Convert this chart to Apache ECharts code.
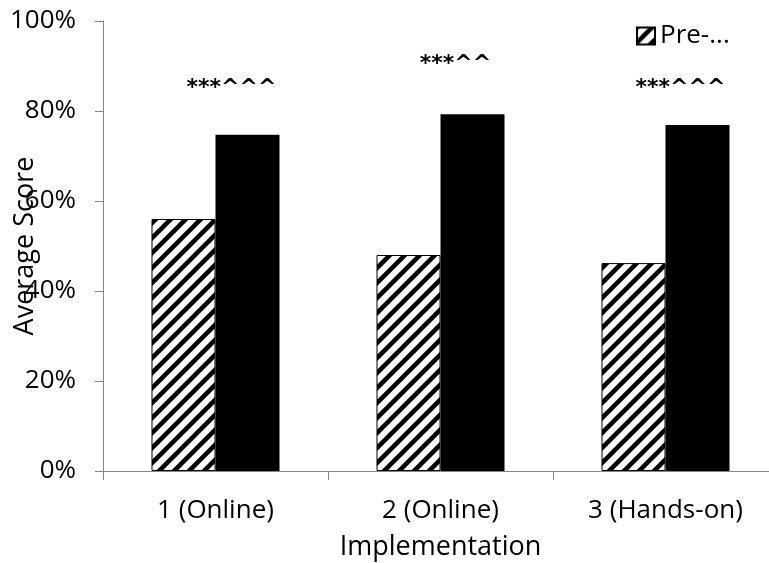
<!DOCTYPE html>
<html>
<head>
<meta charset="utf-8">
<script src="https://cdn.jsdelivr.net/npm/echarts@6/dist/echarts.min.js"></script>
<style>
html,body{margin:0;padding:0;background:#fff;}
#chart{width:769px;height:563px;}
</style>
</head>
<body>
<div id="chart"></div>
<script>
const categories = ['1 (Online)', '2 (Online)', '3 (Hands-on)'];
const preValues = [0.56, 0.48, 0.462];
const postValues = [0.747, 0.793, 0.769];
const sigLabels = ['***^^^', '***^^', '***^^^'];
const yTicks = [0, 0.2, 0.4, 0.6, 0.8, 1.0];
const seriesNames = ['Pre-test', 'Post-test'];
const legendText = 'Pre-...';

// hatch pattern
const pat = document.createElement('canvas');
pat.width = 15; pat.height = 15;
const ctx = pat.getContext('2d');
ctx.fillStyle = '#fff';
ctx.fillRect(0, 0, 15, 15);
ctx.strokeStyle = '#000';
ctx.lineWidth = 4.5;
ctx.beginPath();
ctx.moveTo(-2, 2); ctx.lineTo(2, -2);
ctx.moveTo(0, 15); ctx.lineTo(15, 0);
ctx.moveTo(13, 17); ctx.lineTo(17, 13);
ctx.stroke();

const labelOffsets = [[-16, -36], [-17, -39], [-17, -26]];

const chart = echarts.init(document.getElementById('chart'));
const font = 'Open Sans';
chart.setOption({
  animation: false,
  backgroundColor: '#fff',
  textStyle: { fontFamily: font, color: '#000' },
  grid: { left: 103, right: -9, top: 21, bottom: 92, containLabel: false, outerBoundsMode: 'none' },
  legend: {
    data: [seriesNames[0]],
    left: 636, top: 23,
    padding: 0,
    itemWidth: 18, itemHeight: 17,
    icon: 'rect',
    formatter: function () { return legendText; },
    textStyle: { fontFamily: font, fontSize: 26, color: '#000' }
  },
  xAxis: {
    type: 'category',
    data: categories,
    name: 'Implementation',
    nameLocation: 'middle',
    nameGap: 63,
    nameMoveOverlap: false,
    nameTextStyle: { fontFamily: font, fontSize: 27, color: '#000' },
    axisLine: { lineStyle: { color: '#868686', width: 1 } },
    axisTick: { show: true, length: 9, lineStyle: { color: '#868686' } },
    axisLabel: { margin: 27, fontFamily: font, fontSize: 26, color: '#000' },
    splitLine: { show: false }
  },
  yAxis: {
    type: 'value',
    min: yTicks[0], max: yTicks[yTicks.length - 1], interval: yTicks[1] - yTicks[0],
    name: 'Average Score',
    nameLocation: 'middle',
    nameGap: 64,
    nameMoveOverlap: false,
    nameTextStyle: { fontFamily: font, fontSize: 27, color: '#000' },
    axisLine: { show: true, lineStyle: { color: '#868686', width: 1 } },
    axisTick: { show: true, length: 8, lineStyle: { color: '#868686' } },
    axisLabel: {
      margin: 27, fontFamily: font, fontSize: 26, color: '#000',
      formatter: function (v) { return Math.round(v * 100) + '%'; }
    },
    splitLine: { show: false }
  },
  series: [
    {
      name: seriesNames[0],
      type: 'bar',
      data: preValues,
      barWidth: 64,
      barGap: '0%',
      itemStyle: { color: { image: pat, repeat: 'repeat' }, borderColor: '#000', borderWidth: 1 }
    },
    {
      name: seriesNames[1],
      type: 'bar',
      data: postValues.map(function (v, i) {
        return { value: v, label: { offset: labelOffsets[i] } };
      }),
      barWidth: 64,
      barGap: '0%',
      itemStyle: { color: '#000' },
      label: {
        show: true,
        position: 'top',
        distance: 0,
        fontFamily: 'DejaVu Sans',
        fontWeight: 'bold',
        fontSize: 22,
        color: '#000',
        formatter: function (p) { return sigLabels[p.dataIndex]; }
      }
    }
  ]
});
</script>
</body>
</html>
